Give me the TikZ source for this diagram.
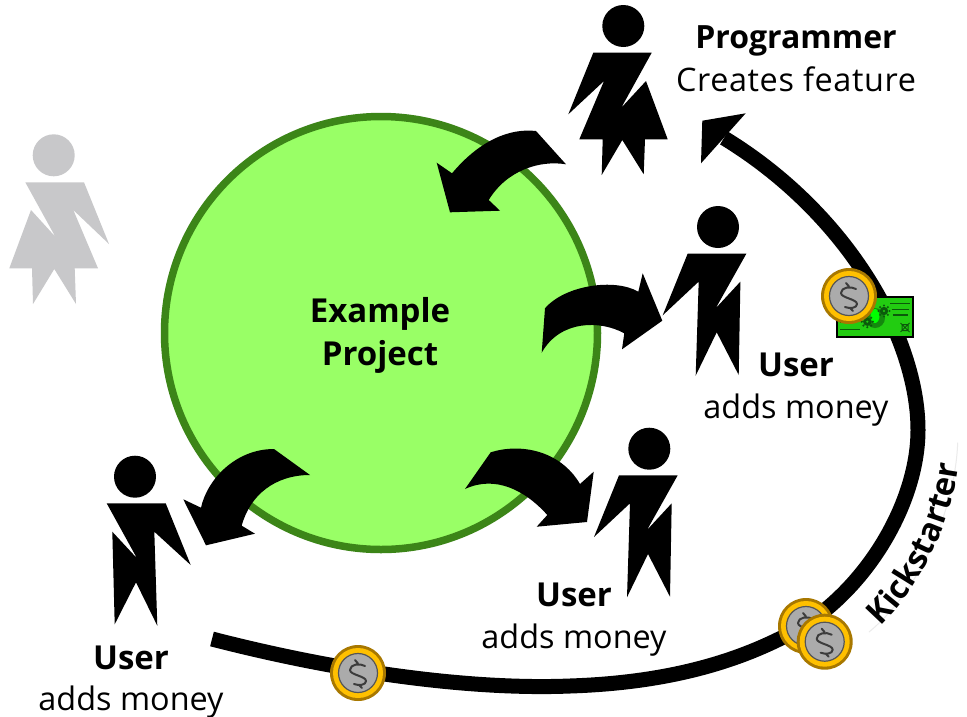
\documentclass[tikz,border=0pt]{standalone}
\usepackage{fontspec}
\setmainfont{Open Sans}
\usetikzlibrary{decorations.text}
\definecolor{proj}{HTML}{99FF66}
\definecolor{projedge}{HTML}{3C8518}
\definecolor{ghost}{HTML}{C8C8CA}
\definecolor{coingold}{HTML}{FFC000}
\definecolor{coinedge}{HTML}{A87800}
\definecolor{coinface}{HTML}{ABABAB}
\definecolor{coindark}{HTML}{555555}
\definecolor{bill}{HTML}{22CC11}
\definecolor{billdark}{HTML}{0B5A0B}
\tikzset{
  x=1pt,y=-1pt,
  label/.style={font=\fontsize{32.4}{38}\selectfont,anchor=base,inner sep=0pt,text=black},
  heading/.style={label,font=\fontsize{33}{38}\selectfont\bfseries},
  womanleft/.pic={
    \fill[pic actions] (623.3,26) circle[radius=21pt];
    \fill[pic actions] (593.3,52.7)--(651.7,52.7)--(621.3,107.7)--(646,81)--(667.7,139.3)--(645,139.3)--(643.7,174.3)--(622.3,140)--(601.7,175)--(602.7,139.3)--(579.3,139.3)--(604,81)--(568.3,114.3)--cycle;
  },
  womanright/.pic={
    \fill[pic actions] (53.7,155.3) circle[radius=21pt];
    \fill[pic actions] (25.3,182.3)--(84,182.3)--(109,244)--(73.3,210)--(98,268.3)--(74.7,268.3)--(76,304)--(54.3,269)--(33,304)--(32,268.3)--(9.3,268.3)--(31,210)--(55.3,236.7)--cycle;
  },
  manleft/.pic={
    \fill (135,476.7) circle[radius=21pt];
    \fill (106.7,503.3)--(165.7,503.3)--(190.7,565)--(154.3,531.7)--(157.3,625.7)--(136,582.3)--(114.7,624.3)--(112.3,531.7)--(137,558.3)--cycle;
  },
  manright/.pic={
    \fill (649.3,448.7) circle[radius=21pt];
    \fill (619,475.3)--(677.7,475.3)--(647,530)--(671.7,503.3)--(670,596.7)--(648,554)--(627,597.3)--(630,503.3)--(594,537)--cycle;
  },
  coin/.pic={
    \fill[coinedge] (0,0) circle[radius=28pt];
    \fill[coingold] (0,0) circle[radius=25pt];
    \fill[coinface,draw=coindark,line width=1.2pt] (0,0) circle[radius=19.5pt];
    \draw[line width=2pt,color=coindark!70!black,line cap=round,line join=round]
      (7,-7) .. controls (2,-10) and (-8,-9) .. (-8,-3)
      .. controls (-8,2) and (8,3) .. (8,8)
      .. controls (8,12) and (1,13) .. (-4,11)
      (-3,-13)--(0,-9.5) (1,12)--(4,15);
  },
  gear/.pic={
    \fill[billdark] (0,0) circle[radius=4.2pt];
    \foreach \a in {0,45,...,315}{\fill[billdark] (\a:5.5pt) circle[radius=1.2pt];}
    \fill[bill] (0,0) circle[radius=1.2pt];
  }
}
\begin{document}
\begin{tikzpicture}
\useasboundingbox (0,0) rectangle (967,716);
\fill[white] (0,0) rectangle (967,716);
% project
\node[circle,draw=projedge,fill=proj,line width=7.5pt,minimum size=433pt,inner sep=0pt] (project) at (381,333) {};
% block arrows
\fill (536,131) .. controls (510,128) and (480,140) .. (452,173.3) -- (436.7,162.7) -- (450,212.3) -- (500,210.7) -- (488.7,200) .. controls (507,170) and (540,160) .. (566,164.3) -- cycle;
\fill (545,308.3) .. controls (565,285) and (615,278) .. (638.3,291.7) -- (642.7,273.3) -- (662.3,320.7) -- (622,349.3) -- (624.3,333.3) .. controls (600,320) and (560,320) .. (541.7,352.7) -- cycle;
\fill (490.7,452.3) .. controls (520,443) and (560,450) .. (580,484) -- (593.7,471.7) -- (587,522) -- (536.7,526.7) -- (547.3,515) .. controls (525,490) and (495,475) .. (465,489) -- cycle;
\fill (274,449) .. controls (235,449) and (207,480) .. (201,507.7) -- (183.3,499.3) -- (206,545.3) -- (255,533.7) -- (241.7,525.7) .. controls (250,495) and (275,475) .. (310,475) -- cycle;
% people
\pic {womanleft};
\pic[color=ghost] {womanright};
\pic {manleft};
\pic {manright};
\pic[shift={(68.7,-221.7)}] {manright};
% kickstarter line
\draw[line width=15pt] (212,639) .. controls (340,672) and (470,690) .. (570,686)
  .. controls (660,683) and (735,665) .. (800,628)
  .. controls (870,585) and (918,500) .. (918,430)
  .. controls (918,340) and (850,215) .. (724,138);
\fill (745.7,113.3) -- (702.3,120.7) -- (701,163.3) -- cycle;
% banknote
\draw[black,fill=bill,line width=2pt] (836.5,296.5) rectangle (912.5,336.5);
\fill[billdark!60!bill] (875,318) circle[radius=10pt];
\fill[green] (875,316) ellipse[x radius=4.5pt,y radius=7pt];
\pic at (867.3,321.7) {gear};
\pic at (884,311) {gear};
\draw[billdark,line width=1.2pt] (890,303.3)--(910,303.3) (891.7,309.3)--(909,309.3) (892.7,315)--(908,315) (840,329.3)--(860,329.3) (840,322)--(855,322);
\draw[billdark,line width=1pt] (902,324.5) rectangle (908,330.5) (900.5,323)--(909.5,332) (909.5,323)--(900.5,332);
% coins
\pic at (849,296) {coin};
\pic at (358,673) {coin};
\pic at (806,626) {coin};
\pic at (824.7,641.7) {coin};
% kickstarter label
\draw[color=black!8,line width=1pt] (869,632) .. controls (920,590) and (955,510) .. (957.7,442.7);
\path[decorate,decoration={text along path,raise=-3pt,text align={left indent=12pt},
  text={|\fontsize{32.5}{38}\selectfont\bfseries|Kickstarter}}]
  (869,632) .. controls (920,590) and (955,510) .. (957.7,442.7);
% labels
\node[heading,font=\fontsize{32}{38}\selectfont\bfseries] (pgh) at (796,48) {Programmer};
\node[label,font=\fontsize{32.4}{38}\selectfont\addfontfeatures{LetterSpace=1.9}] (pgt) at (796,91) {Creates feature};
\node[heading] (u1h) at (796,376) {User};
\node[label] (u1t) at (796,418) {adds money};
\node[heading] (u2h) at (574,606) {User};
\node[label] (u2t) at (574,648) {adds money};
\node[heading] (u3h) at (131,669) {User};
\node[label] (u3t) at (131,710) {adds money};
\node[heading] (ex) at (380,322) {Example};
\node[heading] (pr) at (380,365) {Project};
\end{tikzpicture}
\end{document}
